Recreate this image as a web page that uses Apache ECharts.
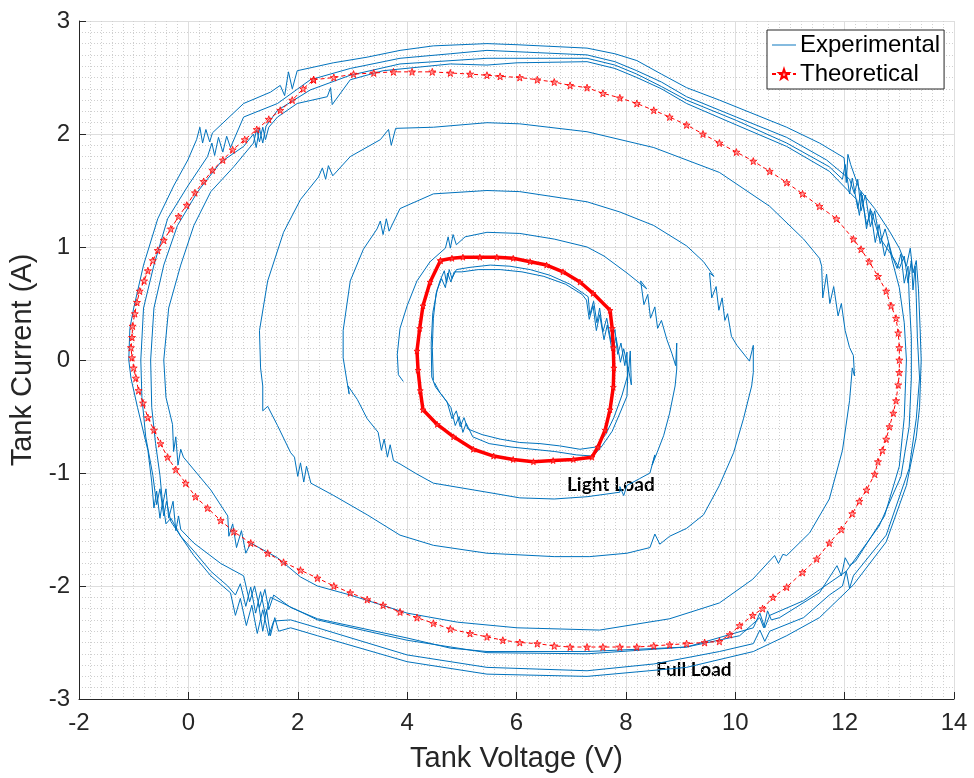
<!DOCTYPE html>
<html>
<head>
<meta charset="utf-8">
<script src="https://cdn.jsdelivr.net/npm/echarts@6/dist/echarts.min.js"></script>
<style>
  html, body { margin: 0; padding: 0; background: #fff; }
  #chart { width: 974px; height: 778px; }
</style>
</head>
<body>
<div id="chart"></div>
<script>
// Axis ranges and tick spacing
const xRange = [-2, 14];
const yRange = [-3, 3];
const xStep = 2;
const yStep = 1;

// Measured tank trajectory, light load steady state (two passes)
const expLightA = [
  [4.48,-0.18],[4.46,0.11],[4.48,0.37],[4.53,0.59],[4.60,0.70],[4.68,0.79],[4.72,0.68],[4.77,0.80],
  [4.82,0.72],[4.90,0.80],[5.15,0.82],[5.52,0.84],[5.88,0.83],[6.25,0.80],[6.61,0.75],[6.98,0.67],
  [7.25,0.58],[7.31,0.56],[7.34,0.40],[7.41,0.52],[7.47,0.33],[7.52,0.46],[7.58,0.25],[7.65,0.37],
  [7.73,0.16],[7.80,0.27],[7.85,0.05],[7.91,0.15],[7.98,-0.05],[8.02,0.07],[8.03,-0.14],[7.93,-0.31],
  [7.78,-0.51],[7.63,-0.66],[7.45,-0.77],[7.16,-0.79],[6.79,-0.76],[6.43,-0.74],[6.06,-0.73],[5.70,-0.70],
  [5.37,-0.66],[5.11,-0.61],[5.04,-0.51],[4.97,-0.59],[4.90,-0.45],[4.82,-0.52],[4.73,-0.37],[4.60,-0.29],
  [4.50,-0.20]
];
const expLightB = [
  [4.45,-0.15],[4.44,0.15],[4.47,0.42],[4.55,0.62],[4.63,0.72],[4.70,0.64],[4.74,0.77],[4.80,0.69],
  [4.86,0.78],[5.00,0.78],[5.30,0.80],[5.70,0.80],[6.10,0.78],[6.50,0.74],[6.90,0.67],[7.20,0.58],
  [7.28,0.53],[7.33,0.36],[7.40,0.48],[7.46,0.26],[7.52,0.40],[7.60,0.18],[7.66,0.31],[7.75,0.08],
  [7.82,0.20],[7.90,-0.02],[7.96,0.10],[8.05,-0.10],[8.08,0.08],[8.10,-0.22],[8.04,-0.06],[8.02,-0.32],
  [7.90,-0.46],[7.75,-0.63],[7.55,-0.77],[7.40,-0.85],[7.10,-0.84],[6.70,-0.81],[6.30,-0.79],[5.90,-0.77],
  [5.50,-0.74],[5.20,-0.68],[5.08,-0.56],[5.02,-0.64],[4.95,-0.50],[4.88,-0.58],[4.80,-0.42],[4.65,-0.32],
  [4.52,-0.24],[4.45,-0.15]
];

// Measured transient: spiral growing out of the light load loop
const expTransient = [
  [3.93,-0.19],[3.84,-0.13],[3.82,0.05],[3.87,0.28],[4.00,0.48],[4.18,0.70],[4.42,0.87],[4.70,0.99],
  [4.75,1.09],[4.79,0.99],[4.84,1.11],[4.90,1.02],[5.06,1.09],
  [5.46,1.13],[6.06,1.12],[6.69,1.07],[7.29,1.00],[7.60,0.92],[8.02,0.77],[8.38,0.63],
  [8.27,0.70],[8.33,0.49],[8.40,0.58],[8.45,0.37],[8.53,0.47],[8.58,0.28],[8.65,0.35],[8.75,0.18],
  [8.84,0.06],[8.91,-0.05],[8.93,0.15],[8.93,-0.08],
  [8.90,-0.23],[8.80,-0.47],[8.69,-0.67],[8.57,-0.82],[8.48,-0.93],[8.53,-0.84],[8.44,-1.00],[8.25,-1.05],
  [8.02,-1.11],[7.96,-1.20],[7.89,-1.12],[7.89,-1.17],
  [7.29,-1.21],[6.69,-1.23],[6.06,-1.22],[5.46,-1.17],[4.48,-1.09],[4.18,-1.01],[3.87,-0.92],[3.75,-0.89],
  [3.69,-0.75],[3.64,-0.86],[3.58,-0.70],[3.53,-0.80],[3.47,-0.64],
  [3.27,-0.52],[3.09,-0.35],[2.92,-0.23],[2.94,-0.30],[2.89,-0.16],[2.83,0.02],[2.83,0.26],[2.96,0.70],
  [3.20,0.98],[3.45,1.16],[3.51,1.23],[3.56,1.11],[3.62,1.25],[3.67,1.14],[3.87,1.34],[4.48,1.47],
  [5.46,1.50],[6.06,1.49],[7.29,1.40],[7.89,1.31],[8.51,1.19],[9.11,1.01],[9.42,0.87],[9.61,0.74],
  [9.53,0.77],[9.57,0.55],[9.65,0.65],[9.70,0.44],[9.76,0.55],[9.81,0.35],[9.86,0.41],[9.93,0.21],
  [10.03,0.13],[10.26,-0.01],[10.33,0.13],[10.33,-0.11],
  [10.30,-0.23],[10.15,-0.52],[9.97,-0.82],[9.71,-1.11],[9.42,-1.37],[9.11,-1.49],[8.80,-1.56],[8.62,-1.63],
  [8.53,-1.54],[8.44,-1.66],
  [8.02,-1.71],[7.34,-1.74],[6.69,-1.74],[5.46,-1.71],[4.48,-1.64],[3.87,-1.55],[3.27,-1.37],[2.66,-1.20],
  [2.24,-1.09],[2.16,-0.94],[2.11,-1.08],[2.05,-0.91],[2.00,-1.03],[1.94,-0.86],
  [1.87,-0.82],[1.63,-0.58],[1.45,-0.41],[1.36,-0.45],[1.36,-0.23],[1.32,-0.07],[1.30,0.26],[1.45,0.70],
  [1.74,1.13],[2.05,1.42],[2.38,1.62],[2.45,1.70],[2.51,1.60],[2.56,1.72],[2.64,1.63],[2.96,1.80],
  [3.51,1.95],[3.66,2.04],[3.71,1.90],[3.79,2.05],[4.48,2.06],
  [5.46,2.10],[6.06,2.09],[7.29,2.02],[8.51,1.88],[9.71,1.66],[10.63,1.36],[11.25,1.07],[11.54,0.90],
  [11.58,0.83],[11.60,0.55],[11.67,0.76],[11.73,0.50],[11.80,0.65],[11.88,0.39],[11.94,0.50],[12.01,0.26],
  [12.09,0.11],[12.16,0.04],[12.18,-0.14],
  [12.14,-0.07],[12.09,-0.36],[11.96,-0.80],[11.72,-1.23],[11.36,-1.53],[10.94,-1.73],[10.87,-1.72],
  [10.79,-1.80],[10.72,-1.73],[10.32,-1.94],[9.71,-2.15],[8.80,-2.29],
  [7.52,-2.39],[6.01,-2.37],[4.92,-2.32],[4.00,-2.24],[2.96,-2.08],[2.36,-2.00],[2.05,-1.92],[1.63,-1.75],
  [1.14,-1.62],[1.05,-1.71],[0.97,-1.51],[0.88,-1.66],[0.81,-1.45],[0.74,-1.56],[0.72,-1.38],[0.41,-1.15],
  [-0.09,-0.86],[-0.14,-0.79],[-0.19,-0.93],[-0.23,-0.68],[-0.27,-0.81],[-0.29,-0.57]
];

// Measured trajectory settling onto the full load loop
const expOuter = [
  [-0.29,-0.57],[-0.41,-0.33],[-0.45,0.00],[-0.36,0.46],[-0.14,0.84],[0.10,1.19],[0.41,1.49],[0.83,1.71],
  [1.19,1.92],[1.25,2.04],[1.30,1.93],[1.36,2.06],[1.41,1.95],[1.47,2.06],[1.63,2.15],[1.99,2.27],
  [2.54,2.33],[2.60,2.41],[2.63,2.26],[2.96,2.48],[3.56,2.56],[4.79,2.62],
  [5.46,2.61],[6.01,2.63],[7.29,2.64],[7.80,2.58],[8.20,2.50],[8.65,2.40],[9.11,2.27],[10.02,2.08],[10.94,1.89],[11.72,1.67],
  [12.22,1.42],[12.27,1.28],[12.32,1.46],[12.40,1.16],[12.47,1.34],[12.56,1.04],[12.63,1.20],[12.73,0.92],
  [12.80,1.04],[12.87,0.88],
  [13.00,0.64],[13.09,0.33],[13.13,0.00],[13.09,-0.51],[13.00,-0.94],[12.73,-1.38],[12.20,-1.78],[12.09,-1.82],
  [12.01,-1.75],[11.94,-1.91],[11.86,-1.82],[11.54,-2.06],[10.81,-2.28],[10.66,-2.30],[10.59,-2.22],[10.52,-2.37],
  [10.45,-2.28],[10.08,-2.44],[9.11,-2.54],
  [7.29,-2.58],[5.46,-2.58],[4.79,-2.55],[4.00,-2.46],[2.36,-2.29],[1.87,-2.19],[1.56,-2.08],[1.47,-2.21],
  [1.40,-2.03],[1.30,-2.19],[1.21,-2.00],[1.12,-2.14],[1.01,-1.91],[0.59,-1.80],[0.10,-1.62],[-0.14,-1.50],
  [-0.18,-1.38],[-0.23,-1.51],[-0.28,-1.25],[-0.36,-1.40],[-0.41,-1.14],[-0.47,-1.28],[-0.52,-1.02],
  [-0.60,-0.74],[-0.67,-0.42],[-0.69,0.00],[-0.63,0.46],[-0.45,0.84],[-0.20,1.19],[0.17,1.49],[0.59,1.75],
  [1.01,1.89],[1.19,2.00],[1.24,1.88],[1.30,2.05],[1.36,1.92],[1.42,2.07],[1.63,2.21],[2.23,2.39],
  [2.96,2.52],[3.87,2.62],
  [5.46,2.67],[7.29,2.67],[7.80,2.61],[8.20,2.53],[8.65,2.42],[9.11,2.30],[10.02,2.12],[10.94,1.92],[11.72,1.71],[11.96,1.60],
  [12.01,1.73],[12.09,1.47],[12.14,1.61],[12.24,1.34],[12.30,1.49],[12.40,1.20],[12.49,1.32],[12.63,1.09],
  [12.87,0.92],[12.96,0.81],[13.03,0.94],[13.09,0.68],[13.16,0.83],[13.18,0.55],[13.22,0.20],[13.22,-0.16],
  [13.18,-0.59],[13.03,-1.03],[12.63,-1.47],[12.03,-1.87],[11.25,-2.13],[10.63,-2.26],[10.54,-2.37],[10.45,-2.24],
  [10.33,-2.37],[9.11,-2.54],
  [7.29,-2.60],[5.46,-2.59],[4.00,-2.48],[2.36,-2.30],[1.50,-2.10],[1.41,-2.26],[1.32,-2.05],[1.23,-2.24],
  [1.14,-2.01],[1.05,-2.18],[0.95,-1.98],[0.86,-2.08],[0.72,-2.00],[0.41,-1.87],[0.10,-1.69],[-0.14,-1.56],
  [-0.32,-1.43],[-0.40,-1.25],[-0.45,-1.38],[-0.52,-1.14],[-0.58,-1.28],[-0.65,-1.02],
  [-0.78,-0.68],[-0.85,-0.33],[-0.87,0.00],[-0.82,0.46],[-0.63,0.84],[-0.38,1.25],[-0.01,1.54],[0.35,1.80],
  [0.43,1.92],[0.48,1.81],[0.55,1.97],[0.63,1.84],[0.70,1.98],[0.77,1.88],[1.01,2.15],[1.63,2.27],
  [2.23,2.48],[2.96,2.58],[3.87,2.67],[4.79,2.71],
  [5.46,2.74],[7.29,2.70],[7.80,2.64],[8.20,2.56],[8.65,2.46],[9.11,2.33],[10.02,2.15],[10.94,1.97],[11.67,1.77],[12.09,1.60],
  [12.18,1.47],[12.24,1.60],[12.30,1.32],[12.38,1.46],[12.47,1.18],[12.55,1.32],[12.65,1.03],[12.74,1.16],
  [12.87,0.92],
  [13.00,0.81],[13.09,0.92],[13.16,0.68],[13.22,0.88],[13.25,0.62],[13.29,0.83],[13.31,0.55],[13.33,0.20],
  [13.37,-0.16],[13.31,-0.52],[13.18,-0.96],[12.76,-1.55],[12.16,-1.91],[12.09,-2.02],[12.03,-1.87],[11.96,-2.00],
  [11.72,-2.08],[11.25,-2.28],[10.63,-2.40],[10.54,-2.49],[10.45,-2.39],[10.33,-2.51],[9.71,-2.58],[8.51,-2.69],
  [7.29,-2.75],[5.46,-2.72],[4.00,-2.61],[2.36,-2.37],[1.87,-2.30],[1.56,-2.31],[1.47,-2.44],[1.36,-2.21],
  [1.26,-2.42],[1.16,-2.17],[1.06,-2.35],[0.95,-2.11],[0.86,-2.26],[0.77,-2.06],[0.41,-1.91],[0.10,-1.73],
  [-0.14,-1.56],[-0.32,-1.40],[-0.41,-1.45],[-0.47,-1.25],[-0.52,-1.40],[-0.58,-1.16],[-0.63,-1.31],[-0.67,-1.08],
  [-0.74,-0.80],[-0.93,-0.42],[-1.05,-0.16],[-1.09,0.00],[-1.07,0.28],[-1.00,0.46],[-0.82,0.84],[-0.56,1.25],
  [-0.27,1.54],[-0.01,1.77],[0.15,1.95],[0.21,2.06],[0.26,1.92],[0.32,2.04],[0.39,1.93],[0.44,2.01],
  [1.01,2.27],[1.50,2.37],[1.68,2.43],[1.76,2.34],[1.83,2.55],[1.90,2.40],[1.99,2.56],[2.65,2.63],
  [3.27,2.68],[3.87,2.74],[4.48,2.78],
  [5.46,2.80],[6.01,2.79],[7.29,2.76],[7.80,2.71],[8.20,2.65],[8.65,2.53],[9.11,2.41],[9.71,2.30],[10.94,2.06],[11.54,1.92],
  [11.99,1.79],[12.03,1.57],[12.06,1.82],[12.11,1.73],[12.27,1.51],[12.55,1.34],[12.82,1.14],[13.00,0.99],
  [13.13,0.83],[13.20,0.99],[13.25,0.77],[13.31,0.88],[13.35,0.63],
  [13.38,0.28],[13.40,0.00],[13.37,-0.42],[13.31,-0.68],[13.13,-1.11],[12.76,-1.61],[12.16,-1.99],[11.54,-2.28],
  [10.94,-2.44],[10.33,-2.58],[9.11,-2.72],[7.29,-2.80],[5.46,-2.78],[4.00,-2.67],[2.36,-2.44],[1.87,-2.37],
  [1.65,-2.40],[1.58,-2.28],[1.50,-2.44],[1.43,-2.21],[1.36,-2.40],[1.28,-2.15]
];

// Theoretical full load trajectory
const theoFull = [
  [2.29,2.48],[2.66,2.50],[3.02,2.53],[3.39,2.54],[3.75,2.55],[4.09,2.55],[4.46,2.55],[4.79,2.54],
  [5.15,2.53],[5.46,2.52],[5.70,2.51],[6.06,2.50],[6.38,2.48],[6.69,2.46],[6.98,2.43],[7.29,2.41],
  [7.58,2.36],[7.89,2.32],[8.20,2.27],[8.51,2.21],[8.80,2.15],[9.11,2.08],[9.41,2.00],[9.71,1.92],
  [10.02,1.84],[10.33,1.76],[10.63,1.67],[10.94,1.57],[11.23,1.47],[11.54,1.36],[11.85,1.25],[12.16,1.07],
  [12.30,0.98],[12.45,0.87],[12.61,0.74],[12.76,0.61],[12.85,0.48],[12.94,0.37],[12.98,0.24],[13.00,0.11],
  [13.00,0.00],[13.00,-0.11],[12.98,-0.22],[12.94,-0.36],[12.89,-0.47],[12.82,-0.59],[12.76,-0.70],[12.69,-0.80],
  [12.61,-0.90],[12.55,-1.01],[12.40,-1.15],[12.27,-1.25],[12.14,-1.36],[11.94,-1.50],[11.72,-1.62],[11.49,-1.76],
  [11.23,-1.88],[10.94,-2.01],[10.69,-2.10],[10.50,-2.20],[10.32,-2.26],[10.08,-2.35],[9.90,-2.43],[9.71,-2.49],
  [9.44,-2.50],[9.11,-2.51],[8.80,-2.52],[8.51,-2.53],[8.20,-2.54],[7.89,-2.54],[7.58,-2.54],[7.29,-2.54],
  [6.98,-2.54],[6.69,-2.53],[6.38,-2.51],[6.06,-2.50],[5.75,-2.48],[5.46,-2.45],[5.15,-2.42],[4.79,-2.38],
  [4.48,-2.33],[4.18,-2.28],[3.87,-2.23],[3.56,-2.17],[3.27,-2.12],[2.96,-2.06],[2.66,-2.00],[2.36,-1.93],
  [2.05,-1.86],[1.74,-1.79],[1.45,-1.71],[1.14,-1.62],[0.83,-1.52],[0.59,-1.42],[0.35,-1.31],[0.13,-1.21],
  [-0.05,-1.09],[-0.23,-0.97],[-0.38,-0.86],[-0.51,-0.74],[-0.63,-0.62],[-0.74,-0.51],[-0.83,-0.38],[-0.91,-0.27],
  [-0.96,-0.16],[-1.00,-0.07],[-1.03,0.02],[-1.05,0.11],[-1.03,0.20],[-1.02,0.30],[-0.98,0.41],[-0.94,0.51],
  [-0.89,0.61],[-0.81,0.70],[-0.74,0.79],[-0.65,0.88],[-0.56,0.97],[-0.45,1.06],[-0.32,1.16],[-0.18,1.27],
  [-0.03,1.37],[0.12,1.48],[0.28,1.58],[0.44,1.68],[0.63,1.77],[0.81,1.86],[1.03,1.95],[1.25,2.04],
  [1.47,2.13],[1.68,2.21],[1.90,2.30],[2.10,2.40],[2.29,2.48]
];

// Theoretical light load trajectory
const theoLight = [
  [4.61,0.88],[4.82,0.90],[5.02,0.91],[5.33,0.91],[5.64,0.91],[5.94,0.90],[6.25,0.87],[6.55,0.84],
  [6.85,0.78],[7.16,0.69],[7.40,0.59],[7.71,0.44],[7.75,0.28],[7.77,0.11],[7.78,-0.07],[7.77,-0.24],
  [7.71,-0.44],[7.62,-0.62],[7.49,-0.77],[7.38,-0.86],[7.04,-0.88],[6.67,-0.89],[6.31,-0.90],[5.94,-0.88],
  [5.58,-0.85],[5.21,-0.79],[4.85,-0.68],[4.55,-0.57],[4.29,-0.44],[4.24,-0.27],[4.20,-0.09],[4.18,0.08],
  [4.23,0.28],[4.29,0.48],[4.42,0.69],[4.61,0.88]
];

const seriesNames = ['Experimental', 'Theoretical'];
const annotations = ['Light Load', 'Full Load'];

const starPath = 'path://M0,-10 L2.35,-3.24 L9.51,-3.09 L3.8,1.24 L5.88,8.09 L0,4 L-5.88,8.09 L-3.8,1.24 L-9.51,-3.09 L-2.35,-3.24 Z';
const lineIcon = 'path://M0,0 L60,0 L60,2.4 L0,2.4 Z';
const blue = '#0072BD';
const red = '#FF0000';
const ink = '#262626';
const font = "'Liberation Sans', Arial, sans-serif";

function expSeries(data) {
  return {
    name: seriesNames[0], type: 'line', data: data,
    symbol: 'none', showSymbol: false,
    lineStyle: { color: blue, width: 1 },
    itemStyle: { color: blue },
    z: 2, silent: true
  };
}

const chart = echarts.init(document.getElementById('chart'), null, { renderer: 'canvas' });
chart.setOption({
  animation: false,
  backgroundColor: '#fff',
  grid: { left: 79, right: 20, top: 21, bottom: 75 },
  xAxis: {
    type: 'value', min: xRange[0], max: xRange[1], interval: xStep,
    name: 'Tank Voltage (V)', nameLocation: 'middle', nameGap: 45,
    nameTextStyle: { fontSize: 29, color: ink, fontFamily: font },
    axisLine: { show: true, onZero: false, lineStyle: { color: ink, width: 1 } },
    axisTick: { show: true, inside: true, length: 7, lineStyle: { color: ink } },
    axisLabel: { fontSize: 24, color: ink, fontFamily: font, margin: 12 },
    splitLine: { show: true, lineStyle: { color: '#dedede', width: 1 } },
    minorTick: { show: false, splitNumber: 10 },
    minorSplitLine: { show: true, lineStyle: { color: '#cfcfcf', width: 1, type: [1, 2] } }
  },
  yAxis: {
    type: 'value', min: yRange[0], max: yRange[1], interval: yStep,
    name: 'Tank Current (A)', nameLocation: 'middle', nameGap: 36,
    nameTextStyle: { fontSize: 29, color: ink, fontFamily: font },
    axisLine: { show: true, onZero: false, lineStyle: { color: ink, width: 1 } },
    axisTick: { show: true, inside: true, length: 7, lineStyle: { color: ink } },
    axisLabel: { fontSize: 24, color: ink, fontFamily: font, margin: 9 },
    splitLine: { show: true, lineStyle: { color: '#dedede', width: 1 } },
    minorTick: { show: false, splitNumber: 10 },
    minorSplitLine: { show: true, lineStyle: { color: '#cfcfcf', width: 1, type: [1, 2] } }
  },
  legend: {
    data: [{ name: seriesNames[0], icon: lineIcon, itemStyle: { color: blue } }, seriesNames[1]],
    orient: 'vertical', left: 767, top: 30,
    itemWidth: 24, itemHeight: 12, itemGap: 5, padding: [3, 4, 3, 4],
    backgroundColor: '#fff', borderColor: ink, borderWidth: 1, borderRadius: 0,
    textStyle: { fontSize: 24, color: '#000', fontFamily: font, padding: [0, 0, 0, -1] }
  },
  series: [
    expSeries(expLightA),
    expSeries(expLightB),
    expSeries(expTransient),
    expSeries(expOuter),
    {
      name: seriesNames[1], type: 'line', data: theoFull,
      symbol: starPath, symbolSize: 7, showSymbol: true,
      lineStyle: { color: red, width: 1, type: [4, 3] },
      itemStyle: { color: 'rgba(255,90,90,0.55)', borderColor: red, borderWidth: 0.8 },
      z: 5, silent: true
    },
    {
      name: seriesNames[1], type: 'line', data: theoLight,
      symbol: starPath, symbolSize: 6, showSymbol: true,
      lineStyle: { color: red, width: 3.5 },
      itemStyle: { color: 'rgba(255,90,90,0.55)', borderColor: red, borderWidth: 0.8 },
      z: 5, silent: true
    }
  ],
  graphic: [
    { type: 'text', left: 567, top: 475, silent: true,
      style: { text: annotations[0], font: "bold 19px Lato, 'Liberation Sans', sans-serif", fill: '#000' } },
    { type: 'text', left: 656, top: 660, silent: true,
      style: { text: annotations[1], font: "bold 19px Lato, 'Liberation Sans', sans-serif", fill: '#000' } }
  ]
});
</script>
</body>
</html>
